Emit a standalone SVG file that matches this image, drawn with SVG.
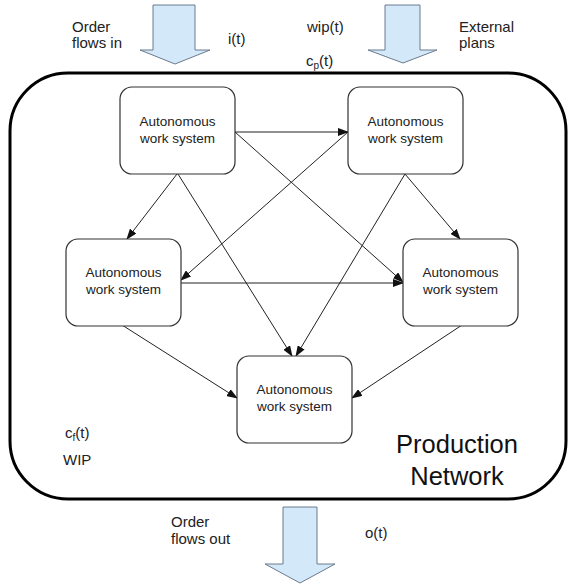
<svg xmlns="http://www.w3.org/2000/svg" width="569" height="585" viewBox="0 0 569 585">
<style>
text{font-family:"Liberation Sans",Arial,sans-serif;fill:#222}
.lbl{font-size:15px}
.nt{font-size:13.5px;text-anchor:middle}
.node{fill:#fff;stroke:#333;stroke-width:1.2}
.edge{stroke:#222;stroke-width:1;fill:none;marker-end:url(#ah)}
.flow{fill:#d3e9fa;stroke:#6b7b8c;stroke-width:1}
.big{font-size:25.5px;text-anchor:middle;fill:#111}
</style>
<defs>
<marker id="ah" markerWidth="11" markerHeight="8" refX="10" refY="4" orient="auto" markerUnits="userSpaceOnUse">
<path d="M0,0 L11,4 L0,8 Z" fill="#111"/>
</marker>
</defs>
<rect width="569" height="585" fill="#fff"/>
<g id="network">
<rect x="10" y="73" width="556" height="426" rx="58" ry="58" fill="none" stroke="#000" stroke-width="3"/>
<text class="big" x="457" y="453">Production</text>
<text class="big" x="457" y="485">Network</text>
</g>
<g id="flow-in">
<polygon class="flow" points="153,5 195,5 195,50 210,50 175,64 140,50 153,50"/>
<text class="lbl" x="72" y="32">Order</text>
<text class="lbl" x="72" y="48">flows in</text>
<text class="lbl" x="228" y="44">i(t)</text>
</g>
<g id="external-plans">
<polygon class="flow" points="385,5 420,5 420,50 437,50 403,63 368,50 385,50"/>
<text class="lbl" x="307" y="32">wip(t)</text>
<text class="lbl" x="306" y="66">c<tspan font-size="10" dy="3">p</tspan><tspan dy="-3">(t)</tspan></text>
<text class="lbl" x="459" y="32">External</text>
<text class="lbl" x="459" y="48">plans</text>
</g>
<g id="flow-out">
<polygon class="flow" points="283,507 317,507 317,564 335,564 300,583 265,564 283,564"/>
<text class="lbl" x="171" y="527">Order</text>
<text class="lbl" x="171" y="544">flows out</text>
<text class="lbl" x="365" y="538">o(t)</text>
</g>
<g id="state">
<text class="lbl" x="65" y="438">c<tspan font-size="10" dy="3">f</tspan><tspan dy="-3">(t)</tspan></text>
<text class="lbl" x="63" y="465">WIP</text>
</g>
<g id="connectors">
<line class="edge" x1="235" y1="132" x2="348" y2="132"/>
<line class="edge" x1="177" y1="174" x2="127" y2="239"/>
<line class="edge" x1="178" y1="174" x2="292" y2="356"/>
<line class="edge" x1="235" y1="132" x2="403" y2="282"/>
<line class="edge" x1="348" y1="132" x2="181" y2="280"/>
<line class="edge" x1="405" y1="174" x2="460" y2="239"/>
<line class="edge" x1="405" y1="174" x2="296" y2="356"/>
<line class="edge" x1="181" y1="283" x2="403" y2="283"/>
<line class="edge" x1="122" y1="325" x2="237" y2="398"/>
<line class="edge" x1="462" y1="325" x2="352" y2="398"/>
</g>
<g id="ws-top-left">
<rect class="node" x="120" y="87" width="115" height="87" rx="12"/>
<text class="nt" x="177.5" y="126">Autonomous</text>
<text class="nt" x="177.5" y="143">work system</text>
</g>
<g id="ws-top-right">
<rect class="node" x="348" y="87" width="115" height="87" rx="12"/>
<text class="nt" x="405.5" y="126">Autonomous</text>
<text class="nt" x="405.5" y="143">work system</text>
</g>
<g id="ws-mid-left">
<rect class="node" x="66" y="239" width="115" height="87" rx="12"/>
<text class="nt" x="123.5" y="277">Autonomous</text>
<text class="nt" x="123.5" y="294">work system</text>
</g>
<g id="ws-mid-right">
<rect class="node" x="403" y="239" width="115" height="87" rx="12"/>
<text class="nt" x="460.5" y="277">Autonomous</text>
<text class="nt" x="460.5" y="294">work system</text>
</g>
<g id="ws-bottom">
<rect class="node" x="237" y="356" width="115" height="87" rx="12"/>
<text class="nt" x="294.5" y="394">Autonomous</text>
<text class="nt" x="294.5" y="411">work system</text>
</g>
</svg>
